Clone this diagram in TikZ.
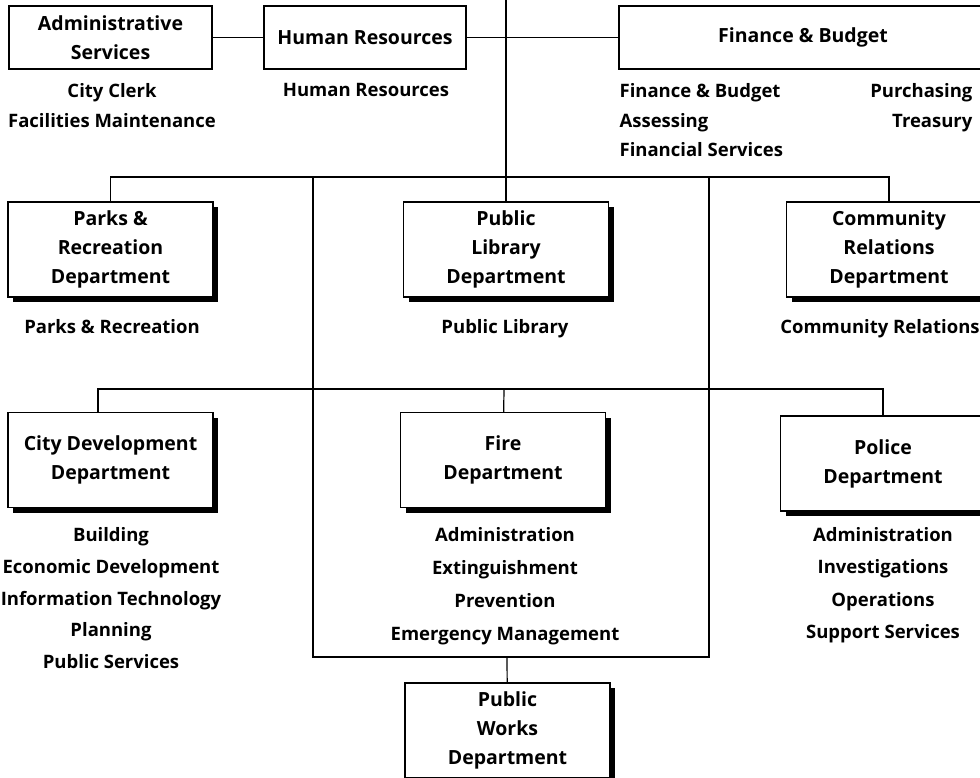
\documentclass[tikz,border=0pt]{standalone}
\usepackage{fontspec}
\setmainfont{Open Sans}
\usetikzlibrary{shadows}

\begin{document}
\begin{tikzpicture}[x=1pt, y=-1pt, line width=1.2pt,
	main/.style = {draw, fill=white, line width=1.4pt, align=center, inner sep=0pt,
		minimum width=205pt, minimum height=95pt, font=\fontsize{19.5}{29}\selectfont\bfseries},
	topbox/.style = {main, minimum height=63pt},
	dept/.style = {main, drop shadow={shadow xshift=5pt, shadow yshift=-5pt, opacity=1, fill=black}},
	sub/.style = {anchor=north, align=center, inner sep=0pt, font=\fontsize{18.5}{32}\selectfont\bfseries}]
	\useasboundingbox (0,0) rectangle (980,778);
	\clip (0,0) rectangle (980,778);

	%% Edges
	\coordinate (top) at (506,0);
	\coordinate (hub1) at (506,177);
	\coordinate (hub2) at (504,389);
	\coordinate (l1) at (313,177);
	\coordinate (r1) at (709,177);
	\coordinate (l2) at (313,657);
	\coordinate (r2) at (709,657);
	\coordinate (hub3) at (507,657);

	%% Nodes
	\node[topbox, minimum width=203pt] (admin) at (110.5,37.5) {Administrative\\Services};
	\node[topbox, minimum width=202pt] (hr) at (365,37.5) {Human Resources};
	\node[topbox, minimum width=368pt] (fin) at (803,37.5) {Finance \& Budget};

	\node[dept] (parks) at (110.5,249.5) {Parks \&\\Recreation\\Department};
	\node[dept] (lib) at (506,249.5) {Public\\Library\\Department};
	\node[dept] (comm) at (889,249.5) {Community\\Relations\\Department};

	\node[dept] (cd) at (110.5,460) {City Development\\Department};
	\node[dept] (fire) at (503,460) {Fire\\Department};
	\node[dept] (police) at (883,463.5) {Police\\Department};

	\node[dept] (works) at (507.5,730.5) {Public\\Works\\Department};

	%% Sections
	\node[sub, font=\fontsize{18.5}{29.5}\selectfont\bfseries] (adminsub) at (112,83) {City Clerk\\Facilities Maintenance};
	\node[sub] (hrsub) at (366,83) {Human Resources};
	\node[sub, anchor=north west, align=left, font=\fontsize{18.5}{29.5}\selectfont\bfseries] (finsub) at (619,83) {Finance \& Budget\\Assessing\\Financial Services};
	\node[sub, anchor=north east, align=right, font=\fontsize{18.5}{29.5}\selectfont\bfseries] (finsub2) at (973,83) {Purchasing\\Treasury};
	\node[sub] (parkssub) at (112,319) {Parks \& Recreation};
	\node[sub] (libsub) at (505,319) {Public Library};
	\node[sub] (commsub) at (880,319) {Community Relations};
	\node[sub, font=\fontsize{18.5}{31.75}\selectfont\bfseries] (cdsub) at (111,527) {Building\\Economic Development\\Information Technology\\Planning\\Public Services};
	\node[sub, font=\fontsize{18.5}{33}\selectfont\bfseries] (firesub) at (505,527) {Administration\\Extinguishment\\Prevention\\Emergency Management};
	\node[sub, font=\fontsize{18.5}{32.3}\selectfont\bfseries] (policesub) at (883,527) {Administration\\Investigations\\Operations\\Support Services};

	%% Connectors
	\draw (admin) -- (hr);
	\draw (hr) -- (fin);
	\draw (top) -- (lib);
	\draw (parks.north) |- (hub1) -| (comm.north);
	\draw (l1) -- (l2) -- (r2) -- (r1);
	\draw ([xshift=-12.5pt]cd.north) |- (hub2) -| (police.north);
	\draw (hub2) -- (fire);
	\draw (hub3) -- (works);
\end{tikzpicture}
\end{document}
